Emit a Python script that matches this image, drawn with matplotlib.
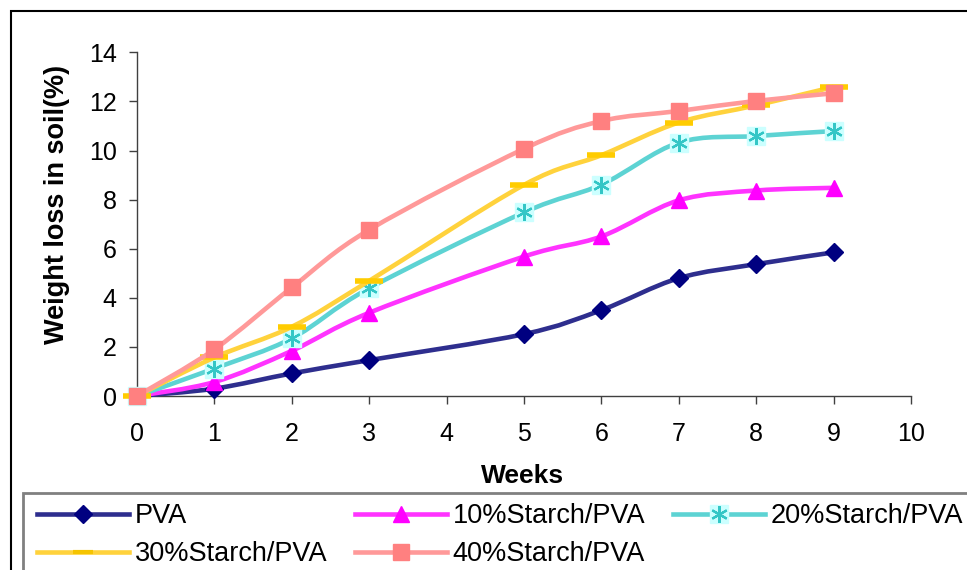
import numpy as np
import matplotlib
matplotlib.use("Agg")
import matplotlib.pyplot as plt
from matplotlib.path import Path
from matplotlib.patches import PathPatch, Rectangle
from matplotlib.lines import Line2D

plt.rcParams['font.family'] = ['Liberation Sans', 'DejaVu Sans']

# ---------------- data ----------------
weeks = [0, 1, 2, 3, 5, 6, 7, 8, 9]
pva = [0.0, 0.30, 0.92, 1.46, 2.52, 3.50, 4.80, 5.37, 5.85]
starch10 = [0.0, 0.57, 1.84, 3.39, 5.68, 6.50, 7.97, 8.37, 8.48]
starch20 = [0.0, 1.12, 2.35, 4.39, 7.48, 8.61, 10.32, 10.59, 10.79]
starch30 = [0.0, 1.57, 2.82, 4.69, 8.60, 9.81, 11.14, 11.84, 12.59]
starch40 = [0.0, 1.90, 4.42, 6.77, 10.07, 11.20, 11.61, 12.02, 12.33]
labels = ['PVA', '10%Starch/PVA', '20%Starch/PVA', '30%Starch/PVA', '40%Starch/PVA']
x_ticks = list(range(0, 11))
y_ticks = list(range(0, 15, 2))

W, H = 967, 570
fig = plt.figure(figsize=(W / 100, H / 100), dpi=100)
fig.patch.set_facecolor('white')
ax = fig.add_axes([137 / W, 1 - 396 / H, (911 - 137) / W, (396 - 52.3) / H])

def smooth_path(xs, ys):
    pts = np.column_stack([xs, ys]).astype(float)
    n = len(pts)
    verts = [pts[0]]
    codes = [Path.MOVETO]
    for i in range(n - 1):
        p0 = pts[max(i - 1, 0)]
        p1 = pts[i]
        p2 = pts[i + 1]
        p3 = pts[min(i + 2, n - 1)]
        c1 = p1 + (p2 - p0) / 6.0
        c2 = p2 - (p3 - p1) / 6.0
        verts += [c1, c2, p2]
        codes += [Path.CURVE4] * 3
    return Path(verts, codes)

LW = 3.3
styles = [
    dict(line='#2e2e8e', marker=[dict(marker='D', ms=9, mfc='#000080', mec='#000080')]),
    dict(line='#ff33ff', marker=[dict(marker='^', ms=11, mfc='#ff00ff', mec='#ff00ff')]),
    dict(line='#5dd3d3', marker=[dict(marker='s', ms=13, mfc='#ccffff', mec='#ccffff'),
                                 dict(marker=(6, 2, 0), ms=12, mec='#33c6c6', mew=1.6)]),
    dict(line='#ffd23c', marker=[dict(marker='_', ms=20, mec='#ffcc00', mew=4)]),
    dict(line='#ff9999', marker=[dict(marker='s', ms=11, mfc='#ff8080', mec='#ff8080')]),
]
series = [pva, starch10, starch20, starch30, starch40]

handles = []
for k, (vals, st) in enumerate(zip(series, styles)):
    z = 3 + k
    patch = PathPatch(smooth_path(weeks, vals), facecolor='none', edgecolor=st['line'],
                      lw=LW, capstyle='butt', joinstyle='round', clip_on=False, zorder=z)
    ax.add_patch(patch)
    for m in st['marker']:
        ax.plot(weeks, vals, ls='none', clip_on=False, zorder=z + 0.5, **m)
    h = [Line2D([], [], color=st['line'], lw=LW)]
    for m in st['marker']:
        mm = dict(m)
        if mm['marker'] == '_':
            mm['mew'] = 3
            mm['mec'] = '#f5c400'
            mm['ms'] = 14
        h.append(Line2D([], [], ls='none', **mm))
    handles.append(tuple(h))

ax.set_xlim(0, 10)
ax.set_ylim(0, 14)
ax.set_xticks(x_ticks)
ax.set_yticks(y_ticks)
for s in ['top', 'right']:
    ax.spines[s].set_visible(False)
for s in ['left', 'bottom']:
    ax.spines[s].set_color('#404040')
    ax.spines[s].set_linewidth(1.0)
ax.tick_params(axis='both', direction='out', length=5.5, width=1, color='#404040', labelsize=18)
ax.tick_params(axis='y', pad=9)
ax.tick_params(axis='x', pad=13)

fig.text(523 / W, 1 - 476 / H, 'Weeks', fontsize=19, fontweight='bold', ha='center', va='center')
fig.text(57 / W, 1 - 204 / H, 'Weight loss in soil(%)', fontsize=19.5, fontweight='bold',
         rotation=90, ha='center', va='center')

order = [0, 3, 1, 4, 2]
fig.legend([handles[i] for i in order], [labels[i] for i in order], ncol=3,
           loc='upper left', bbox_to_anchor=(37 / W, 1 - 503 / H), frameon=False,
           borderpad=0, borderaxespad=0, handlelength=3.4, handletextpad=0.22,
           columnspacing=1.0, fontsize=19.5, labelspacing=0.45, numpoints=1)

# borders
fig.add_artist(Rectangle((11 / W, -0.1), 2, 1 - 11 / H + 0.1, transform=fig.transFigure,
                         fill=False, ec='black', lw=1.5))
fig.add_artist(Rectangle((23 / W, -0.2), 2, 1 - 493 / H + 0.2, transform=fig.transFigure,
                         fill=False, ec='#808080', lw=2))

fig.savefig('out.png', dpi=100, facecolor='white')
